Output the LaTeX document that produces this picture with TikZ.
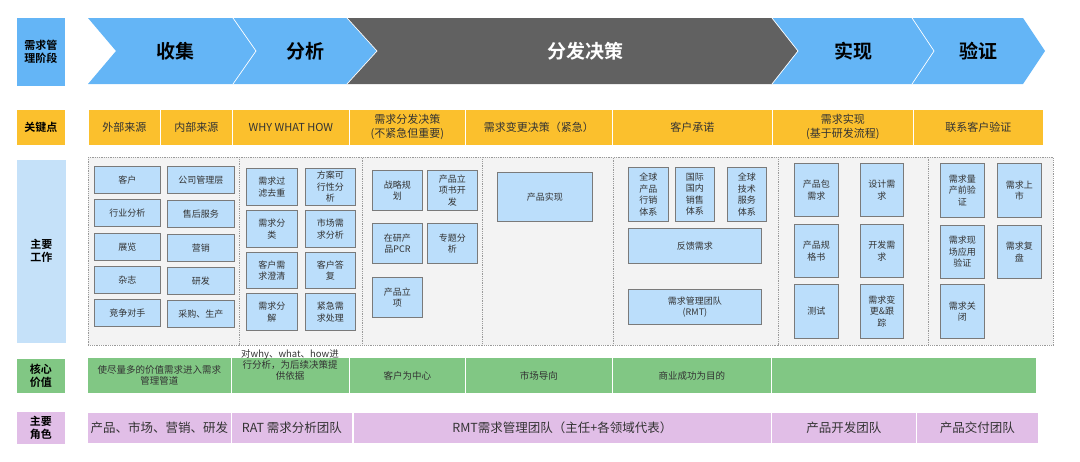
\documentclass[tikz,border=0pt]{standalone}
\usepackage{fontspec}
\setmainfont{Noto Sans CJK SC}[BoldFont={Noto Sans CJK SC Bold}]
\definecolor{phB}{HTML}{64B5F6}
\definecolor{phD}{HTML}{616161}
\definecolor{keyY}{HTML}{FBC02D}
\definecolor{workL}{HTML}{C5E1F9}
\definecolor{boxF}{HTML}{BBDEFB}
\definecolor{boxD}{HTML}{7A7A7A}
\definecolor{contF}{HTML}{F3F3F3}
\definecolor{contD}{HTML}{9A9A9A}
\definecolor{valG}{HTML}{81C784}
\definecolor{roleP}{HTML}{E1BEE7}
\definecolor{txt}{HTML}{333333}
\begin{document}
\begin{tikzpicture}[x=1pt,y=-1pt,
  phase/.style={draw=white, line width=0.7pt},
  phtext/.style={font=\fontsize{19}{22}\selectfont\bfseries, text=black},
  lbl/.style={anchor=north west, inner sep=0, align=center, draw=white, line width=0.6pt, font=\fontsize{11}{13}\selectfont\bfseries, text=black},
  kcell/.style={anchor=north west, fill=keyY, draw=white, line width=0.8pt, inner sep=0, align=center, font=\fontsize{11}{14}\selectfont, text=txt, minimum height=36},
  cont/.style={anchor=north west, fill=contF, draw=contD, densely dotted, line width=0.8pt, inner sep=0, minimum height=188},
  wbox/.style={anchor=north west, fill=boxF, draw=boxD, line width=0.9pt, inner sep=0, align=center, font=\fontsize{9}{11.5}\selectfont, text=txt},
  vcell/.style={anchor=north west, fill=valG, draw=white, line width=0.8pt, inner sep=0, align=center, font=\fontsize{9.5}{11}\selectfont, text=txt, minimum height=36},
  rcell/.style={anchor=north west, fill=roleP, draw=white, line width=0.8pt, inner sep=0, align=center, font=\fontsize{12.5}{14}\selectfont, text=txt, minimum height=31}
]
\useasboundingbox (0,0) rectangle (1080,461);
% ---- row labels
\node[lbl, fill=phB, minimum width=49, minimum height=69] (L1) at (16,17) {需求管\\理阶段};
\node[lbl, fill=keyY, minimum width=49, minimum height=36] (L2) at (16,109) {关键点};
\node[lbl, fill=workL, minimum width=50, minimum height=184] (L3) at (16,159) {主要\\工作};
\node[lbl, fill=valG, minimum width=49, minimum height=35] (L4) at (16,358) {核心\\价值};
\node[lbl, fill=roleP, minimum width=49, minimum height=33] (L5) at (16,411) {主要\\角色};
% ---- phase chevrons
\fill[phB] (88,18) -- (233,18) -- (256,51) -- (233,84) -- (88,84) -- (116,51) -- cycle;
\fill[phB] (233,18) -- (347,18) -- (377,51) -- (347,84) -- (233,84) -- (256,51) -- cycle;
\fill[phD] (347,18) -- (772,18) -- (798,51) -- (772,84) -- (347,84) -- (377,51) -- cycle;
\fill[phB] (772,18) -- (912,18) -- (934,51) -- (912,84) -- (772,84) -- (798,51) -- cycle;
\fill[phB] (912,18) -- (1023,18) -- (1045,51) -- (1023,84) -- (912,84) -- (934,51) -- cycle;
\draw[phase] (233,18) -- (256,51) -- (233,84);
\draw[phase] (347,18) -- (377,51) -- (347,84);
\draw[phase] (772,18) -- (798,51) -- (772,84);
\draw[phase] (912,18) -- (934,51) -- (912,84);
\node[phtext] (p1) at (175,51) {收集};
\node[phtext] (p2) at (305,51) {分析};
\node[phtext, text=white] (p3) at (585,51) {分发决策};
\node[phtext] (p4) at (853,51) {实现};
\node[phtext] (p5) at (978,51) {验证};
% ---- key points
\node[kcell, minimum width=72] (k1) at (88,109) {外部来源};
\node[kcell, minimum width=72] (k2) at (160,109) {内部来源};
\node[kcell, minimum width=117] (k3) at (232,109) {WHY WHAT HOW};
\node[kcell, minimum width=116] (k4) at (349,109) {需求分发决策\\(不紧急但重要)};
\node[kcell, minimum width=147] (k5) at (465,109) {需求变更决策（紧急）};
\node[kcell, minimum width=160] (k6) at (612,109) {客户承诺};
\node[kcell, minimum width=141] (k7) at (772,109) {需求实现\\(基于研发流程)};
\node[kcell, minimum width=130] (k8) at (913,109) {联系客户验证};
% ---- containers
\node[cont, minimum width=151] (c1) at (88,157) {};
\node[cont, minimum width=123] (c2) at (239,157) {};
\node[cont, minimum width=120] (c3) at (362,157) {};
\node[cont, minimum width=131] (c4) at (482,157) {};
\node[cont, minimum width=165] (c5) at (613,157) {};
\node[cont, minimum width=150] (c6) at (778,157) {};
\node[cont, minimum width=125] (c7) at (928,157) {};
% c1
\node[wbox, minimum width=66, minimum height=27] (a1) at (94,166) {客户};
\node[wbox, minimum width=66, minimum height=27] (a2) at (94,199) {行业分析};
\node[wbox, minimum width=66, minimum height=27] (a3) at (94,233) {展览};
\node[wbox, minimum width=66, minimum height=27] (a4) at (94,266) {杂志};
\node[wbox, minimum width=66, minimum height=27] (a5) at (94,299) {竞争对手};
\node[wbox, minimum width=67, minimum height=27] (b1) at (167,166) {公司管理层};
\node[wbox, minimum width=67, minimum height=27] (b2) at (167,200) {售后服务};
\node[wbox, minimum width=67, minimum height=27] (b3) at (167,234) {营销};
\node[wbox, minimum width=67, minimum height=27] (b4) at (167,267) {研发};
\node[wbox, minimum width=67, minimum height=27] (b5) at (167,300) {采购、生产};
% c2
\node[wbox, minimum width=51, minimum height=37] (d1) at (246,168) {需求过\\滤去重};
\node[wbox, minimum width=51, minimum height=37] (d2) at (246,210) {需求分\\类};
\node[wbox, minimum width=51, minimum height=36] (d3) at (246,252) {客户需\\求澄清};
\node[wbox, minimum width=51, minimum height=37] (d4) at (246,293) {需求分\\解};
\node[wbox, minimum width=50, minimum height=37] (e1) at (305,168) {方案可\\行性分\\析};
\node[wbox, minimum width=50, minimum height=37] (e2) at (305,210) {市场需\\求分析};
\node[wbox, minimum width=50, minimum height=36] (e3) at (305,252) {客户答\\复};
\node[wbox, minimum width=50, minimum height=37] (e4) at (305,293) {紧急需\\求处理};
% c3
\node[wbox, minimum width=50, minimum height=40] (f1) at (372,170) {战略规\\划};
\node[wbox, minimum width=50, minimum height=40] (f2) at (372,223) {在研产\\品PCR};
\node[wbox, minimum width=50, minimum height=40] (f3) at (372,277) {产品立\\项};
\node[wbox, minimum width=50, minimum height=40] (g1) at (427,170) {产品立\\项书开\\发};
\node[wbox, minimum width=50, minimum height=40] (g2) at (427,223) {专题分\\析};
% c4
\node[wbox, minimum width=95, minimum height=49] (h1) at (497,172) {产品实现};
% c5
\node[wbox, minimum width=40, minimum height=54] (i1) at (628,167) {全球\\产品\\行销\\体系};
\node[wbox, minimum width=39, minimum height=54] (i2) at (675,167) {国际\\国内\\销售\\体系};
\node[wbox, minimum width=39, minimum height=54] (i3) at (727,167) {全球\\技术\\服务\\体系};
\node[wbox, minimum width=133, minimum height=35] (i4) at (628,228) {反馈需求};
\node[wbox, minimum width=133, minimum height=35] (i5) at (628,289) {需求管理团队\\(RMT)};
% c6
\node[wbox, minimum width=44, minimum height=53] (j1) at (794,163) {产品包\\需求};
\node[wbox, minimum width=44, minimum height=53] (j2) at (794,224) {产品规\\格书};
\node[wbox, minimum width=44, minimum height=54] (j3) at (794,284) {测试};
\node[wbox, minimum width=43, minimum height=53] (m1) at (860,163) {设计需\\求};
\node[wbox, minimum width=43, minimum height=53] (m2) at (860,224) {开发需\\求};
\node[wbox, minimum width=43, minimum height=54] (m3) at (860,284) {需求变\\更\&跟\\踪};
% c7
\node[wbox, minimum width=44, minimum height=54] (n1) at (940,163) {需求量\\产前验\\证};
\node[wbox, minimum width=44, minimum height=53] (n2) at (940,225) {需求现\\场应用\\验证};
\node[wbox, minimum width=44, minimum height=54] (n3) at (940,284) {需求关\\闭};
\node[wbox, minimum width=44, minimum height=54] (o1) at (997,163) {需求上\\市};
\node[wbox, minimum width=44, minimum height=53] (o2) at (997,225) {需求复\\盘};
% ---- core values
\node[vcell, minimum width=144] (v1) at (87,357) {使尽量多的价值需求进入需求\\管理管道};
\node[vcell, minimum width=118] (v2) at (231,357) {};
\node[align=center, inner sep=0, font=\fontsize{9.5}{11}\selectfont, text=txt] (v2t) at (290,365) {对why、what、how进\\行分析，为后续决策提\\供依据};
\node[vcell, minimum width=116] (v3) at (349,357) {客户为中心};
\node[vcell, minimum width=147] (v4) at (465,357) {市场导向};
\node[vcell, minimum width=159] (v5) at (612,357) {商业成功为目的};
\node[vcell, minimum width=265] (v6) at (771,357) {};
% ---- roles
\node[rcell, minimum width=144] (r1) at (87,412) {产品、市场、营销、研发};
\node[rcell, minimum width=121] (r2) at (231,412) {RAT 需求分析团队};
\node[rcell, minimum width=418] (r3) at (353,412) {RMT需求管理团队（主任+各领域代表）};
\node[rcell, minimum width=145] (r4) at (771,412) {产品开发团队};
\node[rcell, minimum width=122] (r5) at (916,412) {产品交付团队};
\end{tikzpicture}
\end{document}
